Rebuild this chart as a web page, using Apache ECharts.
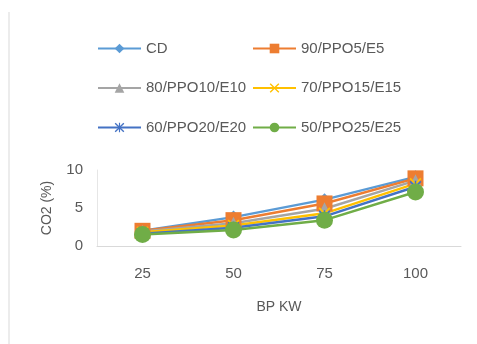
<!DOCTYPE html>
<html>
<head>
<meta charset="utf-8">
<script src="https://cdn.jsdelivr.net/npm/echarts@6/dist/echarts.min.js"></script>
<style>
  html, body { margin: 0; padding: 0; background: #fff; }
  #chart { width: 477px; height: 344px; }
</style>
</head>
<body>
<div id="chart"></div>
<script>
const categories = ['25', '50', '75', '100']
const seriesNames = ['CD', '90/PPO5/E5', '80/PPO10/E10', '70/PPO15/E15', '60/PPO20/E20', '50/PPO25/E25']
const cdValues = [2.0, 3.8, 6.1, 9.1]
const ppo5Values = [2.0, 3.4, 5.6, 8.9]
const ppo10Values = [1.9, 3.0, 4.9, 8.6]
const ppo15Values = [1.8, 2.7, 4.3, 8.2]
const ppo20Values = [1.6, 2.4, 3.9, 7.8]
const ppo25Values = [1.5, 2.1, 3.4, 7.1]
const yTicks = [0, 5, 10]

const textColor = '#595959'
const font = 'Liberation Sans, Arial, sans-serif'

// filled shapes for Excel's x and star markers
const xMarker = 'path://M1,0 L5,4 L9,0 L10,1 L6,5 L10,9 L9,10 L5,6 L1,10 L0,9 L4,5 L0,1 Z'
const starMarker = xMarker + ' M4.4,0 L5.6,0 L5.6,10 L4.4,10 Z'

const styles = [
  { color: '#5B9BD5', symbol: 'diamond', size: 13 },
  { color: '#ED7D31', symbol: 'rect', size: 16 },
  { color: '#A5A5A5', symbol: 'triangle', size: 13 },
  { color: '#FFC000', symbol: xMarker, size: 12 },
  { color: '#4472C4', symbol: starMarker, size: 12 },
  { color: '#70AD47', symbol: 'circle', size: 17 },
]
const values = [cdValues, ppo5Values, ppo10Values, ppo15Values, ppo20Values, ppo25Values]

const chart = echarts.init(document.getElementById('chart'))

function legendCol(left, names) {
  return {
    orient: 'vertical',
    left: left,
    top: 41,
    padding: 0,
    itemWidth: 43,
    itemHeight: 12,
    itemGap: 24.5,
    textStyle: { color: textColor, fontSize: 15, fontFamily: font },
    data: names,
  }
}

chart.setOption({
  animation: false,
  legend: [
    legendCol(97, [seriesNames[0], seriesNames[2], seriesNames[4]]),
    legendCol(252, [seriesNames[1], seriesNames[3], seriesNames[5]]),
  ],
  grid: { left: 97, right: 16, top: 170, bottom: 98 },
  xAxis: {
    type: 'category',
    data: categories,
    name: 'BP KW',
    nameLocation: 'middle',
    nameGap: 54,
    nameTextStyle: { color: textColor, fontSize: 14, fontFamily: font },
    axisLine: { lineStyle: { color: '#d9d9d9', width: 1 } },
    axisTick: { show: false },
    axisLabel: { color: textColor, fontSize: 15, fontFamily: font, margin: 20 },
  },
  yAxis: {
    type: 'value',
    min: yTicks[0],
    max: yTicks[yTicks.length - 1],
    interval: yTicks[1] - yTicks[0],
    name: 'CO2 (%)',
    nameLocation: 'middle',
    nameGap: 43,
    nameTextStyle: { color: textColor, fontSize: 14, fontFamily: font },
    axisLine: { show: true, lineStyle: { color: '#e6e6e6', width: 1 } },
    axisTick: { show: false },
    splitLine: { show: false },
    axisLabel: { color: textColor, fontSize: 15, fontFamily: font, margin: 14 },
  },
  graphic: [
    {
      type: 'line',
      shape: { x1: 9, y1: 12, x2: 9, y2: 344 },
      style: { stroke: '#d9d9d9', lineWidth: 1 },
    },
  ],
  series: seriesNames.map((name, i) => ({
    name: name,
    type: 'line',
    data: values[i],
    symbol: styles[i].symbol,
    symbolSize: styles[i].size,
    showAllSymbol: true,
    lineStyle: { color: styles[i].color, width: 2.5 },
    itemStyle: { color: styles[i].color },
  })),
})
</script>
</body>
</html>
